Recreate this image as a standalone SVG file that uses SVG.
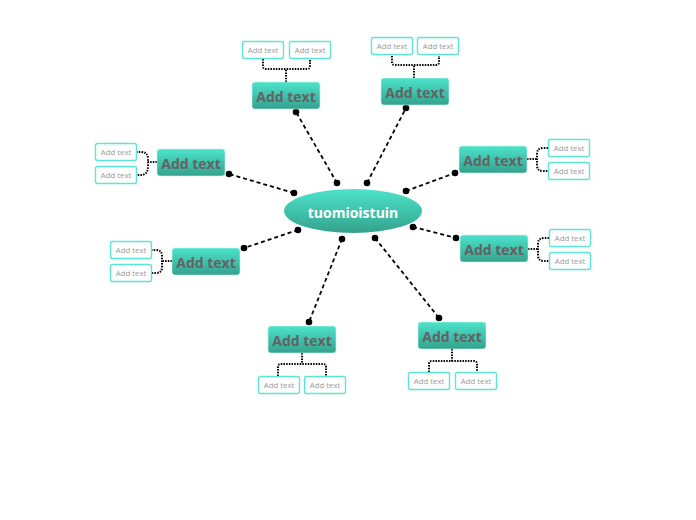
<svg xmlns="http://www.w3.org/2000/svg" width="696" height="520" viewBox="0 0 696 520">
<defs>
<linearGradient id="g" x1="0" y1="0" x2="0" y2="1">
<stop offset="0" stop-color="#4de3cb"/>
<stop offset="1" stop-color="#34a28d"/>
</linearGradient>
<style>
.n rect{fill:url(#g);stroke:#c9f3ec;stroke-width:0.6}
.n text{font-family:"Open Sans","Noto Sans",sans-serif;font-weight:bold;font-size:14px;fill:#636363;text-anchor:middle;dominant-baseline:central}
.s rect{fill:#fff;stroke:#5ee6d4;stroke-width:1.4}
.s text{font-family:"Open Sans","Noto Sans",sans-serif;font-size:7.8px;fill:#9a9a9a;text-anchor:middle;dominant-baseline:central}
.c line{stroke:#000;stroke-width:1.8;stroke-dasharray:4 3}
.c circle{fill:#000}
.b{fill:none;stroke:#000;stroke-width:2;stroke-dasharray:1.5 1.2}
</style>
</defs>
<rect width="696" height="520" fill="#fff"/>
<g id="connectors" class="c">
<line x1="337" y1="183" x2="296" y2="112"/><circle cx="337" cy="183" r="3.3"/><circle cx="296" cy="112" r="3.3"/>
<line x1="367" y1="183" x2="406" y2="108"/><circle cx="367" cy="183" r="3.3"/><circle cx="406" cy="108" r="3.3"/>
<line x1="294" y1="193" x2="229" y2="174"/><circle cx="294" cy="193" r="3.3"/><circle cx="229" cy="174" r="3.3"/>
<line x1="406" y1="191" x2="455" y2="173"/><circle cx="406" cy="191" r="3.3"/><circle cx="455" cy="173" r="3.3"/>
<line x1="413" y1="227" x2="456" y2="238"/><circle cx="413" cy="227" r="3.3"/><circle cx="456" cy="238" r="3.3"/>
<line x1="298" y1="230" x2="244" y2="248"/><circle cx="298" cy="230" r="3.3"/><circle cx="244" cy="248" r="3.3"/>
<line x1="342" y1="239" x2="309" y2="322"/><circle cx="342" cy="239" r="3.3"/><circle cx="309" cy="322" r="3.3"/>
<line x1="375" y1="238" x2="439" y2="318"/><circle cx="375" cy="238" r="3.3"/><circle cx="439" cy="318" r="3.3"/>
</g>
<g id="brackets">
<path class="b" d="M286 82V69M263 59V66Q263 69 266 69H307Q310 69 310 66V59"/>
<path class="b" d="M414 78V65M392 56V62Q392 65 395 65H436Q439 65 439 62V56"/>
<path class="b" d="M157 162H148M136 152H141Q148 152 148 159V166Q148 175 141 175H136"/>
<path class="b" d="M527 159H537M548 148H543Q537 148 537 154V165Q537 171 543 171H548"/>
<path class="b" d="M528 249H538M549 238H544Q538 238 538 244V255Q538 261 544 261H549"/>
<path class="b" d="M172 261H162M151 250H156Q162 250 162 256V267Q162 273 156 273H151"/>
<path class="b" d="M302 353V364M278 376V367Q278 364 281 364H323Q326 364 326 367V376"/>
<path class="b" d="M452 349V361M429 372V364Q429 361 432 361H474Q477 361 477 364V372"/>
</g>
<g id="center">
<ellipse cx="353" cy="211" rx="69" ry="22" fill="url(#g)"/>
<text x="353" y="212" font-family="'Open Sans','Noto Sans',sans-serif" font-weight="bold" font-size="14" fill="#fff" text-anchor="middle" dominant-baseline="central">tuomioistuin</text>
</g>
<g id="n1" class="n"><rect x="252" y="82" width="68" height="27" rx="3"/><text x="286" y="96">Add text</text></g>
<g id="n2" class="n"><rect x="381" y="78" width="68" height="27" rx="3"/><text x="415" y="92">Add text</text></g>
<g id="n3" class="n"><rect x="157" y="149" width="68" height="27" rx="3"/><text x="191" y="163">Add text</text></g>
<g id="n4" class="n"><rect x="459" y="146" width="68" height="27" rx="3"/><text x="493" y="160">Add text</text></g>
<g id="n5" class="n"><rect x="460" y="235" width="68" height="27" rx="3"/><text x="494" y="249">Add text</text></g>
<g id="n6" class="n"><rect x="172" y="248" width="68" height="27" rx="3"/><text x="206" y="262">Add text</text></g>
<g id="n7" class="n"><rect x="268" y="326" width="68" height="27" rx="3"/><text x="302" y="340">Add text</text></g>
<g id="n8" class="n"><rect x="418" y="322" width="68" height="27" rx="3"/><text x="452" y="336">Add text</text></g>
<g id="s1a" class="s"><rect x="242.5" y="41.5" width="41" height="17" rx="2"/><text x="263" y="50">Add text</text></g>
<g id="s1b" class="s"><rect x="289.5" y="41.5" width="41" height="17" rx="2"/><text x="310" y="50">Add text</text></g>
<g id="s2a" class="s"><rect x="371.5" y="37.5" width="41" height="17" rx="2"/><text x="392" y="46">Add text</text></g>
<g id="s2b" class="s"><rect x="417.5" y="37.5" width="41" height="17" rx="2"/><text x="438" y="46">Add text</text></g>
<g id="s3a" class="s"><rect x="95.5" y="143.5" width="41" height="17" rx="2"/><text x="116" y="152">Add text</text></g>
<g id="s3b" class="s"><rect x="95.5" y="166.5" width="41" height="17" rx="2"/><text x="116" y="175">Add text</text></g>
<g id="s4a" class="s"><rect x="548.5" y="139.5" width="41" height="17" rx="2"/><text x="569" y="148">Add text</text></g>
<g id="s4b" class="s"><rect x="548.5" y="162.5" width="41" height="17" rx="2"/><text x="569" y="171">Add text</text></g>
<g id="s5a" class="s"><rect x="549.5" y="229.5" width="41" height="17" rx="2"/><text x="570" y="238">Add text</text></g>
<g id="s5b" class="s"><rect x="549.5" y="252.5" width="41" height="17" rx="2"/><text x="570" y="261">Add text</text></g>
<g id="s6a" class="s"><rect x="110.5" y="241.5" width="41" height="17" rx="2"/><text x="131" y="250">Add text</text></g>
<g id="s6b" class="s"><rect x="110.5" y="264.5" width="41" height="17" rx="2"/><text x="131" y="273">Add text</text></g>
<g id="s7a" class="s"><rect x="258.5" y="376.5" width="41" height="17" rx="2"/><text x="279" y="385">Add text</text></g>
<g id="s7b" class="s"><rect x="304.5" y="376.5" width="41" height="17" rx="2"/><text x="325" y="385">Add text</text></g>
<g id="s8a" class="s"><rect x="408.5" y="372.5" width="41" height="17" rx="2"/><text x="429" y="381">Add text</text></g>
<g id="s8b" class="s"><rect x="455.5" y="372.5" width="41" height="17" rx="2"/><text x="476" y="381">Add text</text></g>
</svg>
